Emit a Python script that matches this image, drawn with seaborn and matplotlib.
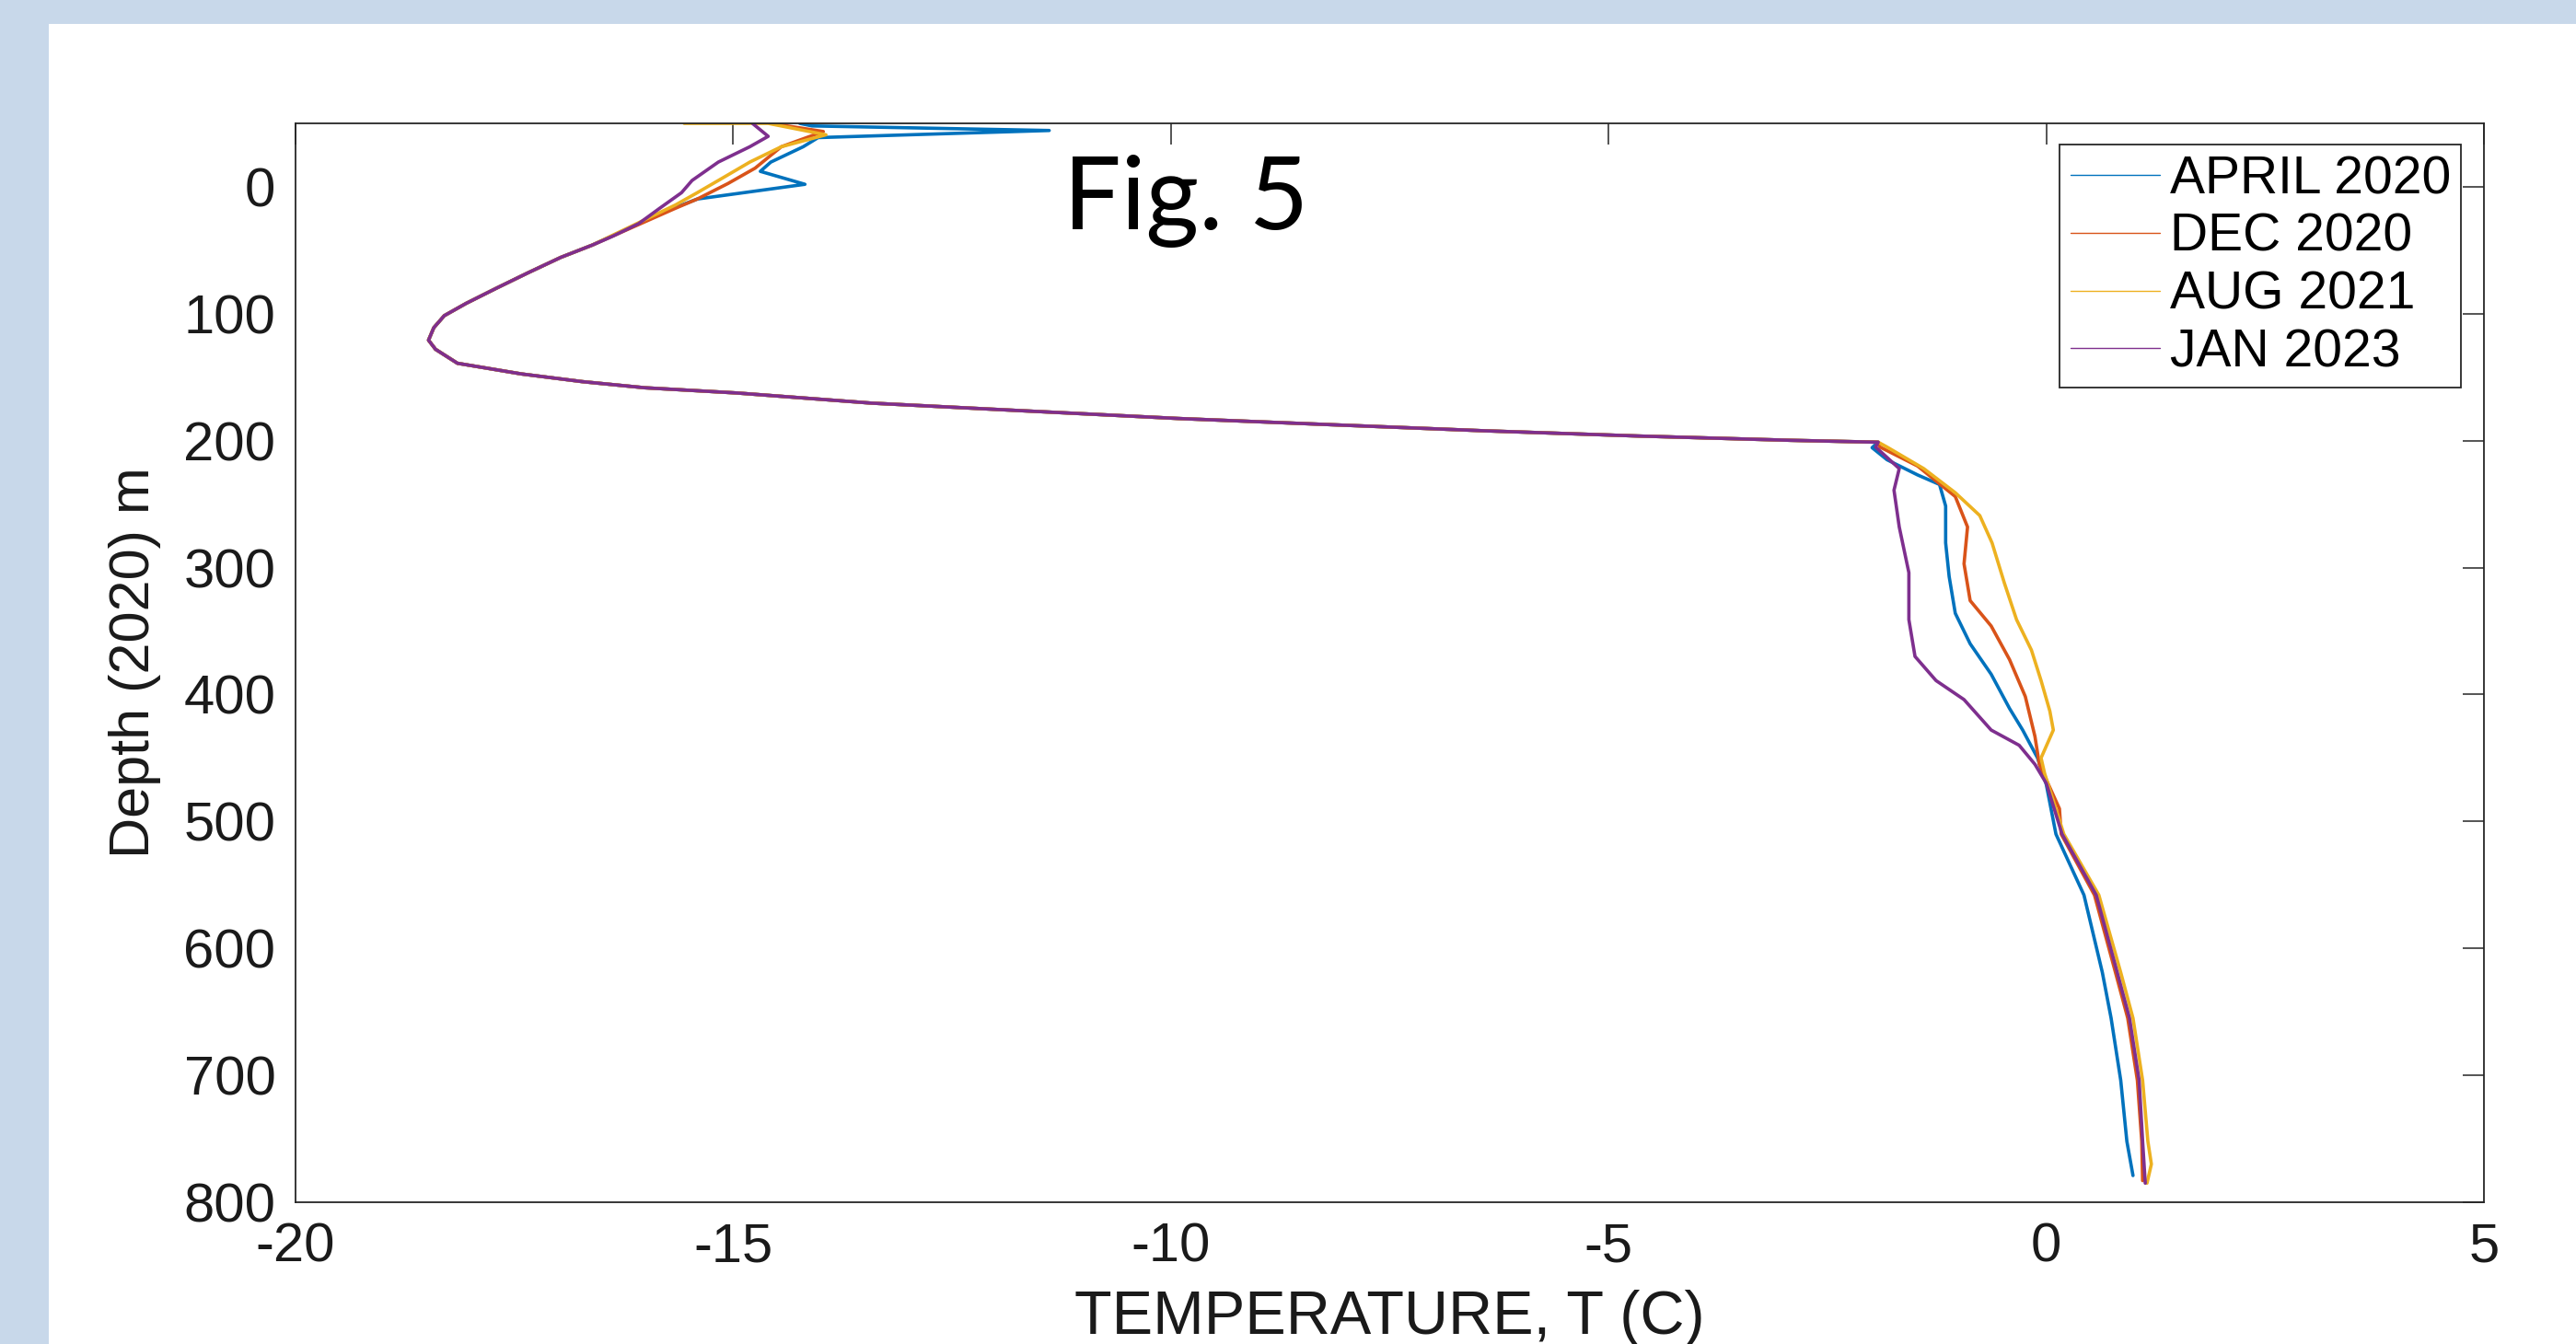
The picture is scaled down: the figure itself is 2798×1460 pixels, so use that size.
import numpy as np
import pandas as pd
import matplotlib
matplotlib.use('Agg')
import matplotlib.pyplot as plt
from matplotlib.patches import Rectangle
import seaborn as sns

# ---------------- data ----------------
surveys = ['APRIL 2020', 'DEC 2020', 'AUG 2021', 'JAN 2023']
colors = ['#0072BD', '#D95319', '#EDB120', '#7E2F8E']

# near-surface part (differs per survey)
apr_top_T = [-14.24, -14.1, -11.39, -14.03, -14.2, -14.57, -14.69, -14.18, -15.41, -15.77]
apr_top_d = [-50, -48, -44.4, -38.8, -31.6, -19.5, -12.2, -2, 9.6, 19.2]
dec_top_T = [-14.57, -13.97, -14.45, -14.75, -15.06, -15.41, -15.66]
dec_top_d = [-50, -43.6, -31.6, -14.7, -2.6, 9.6, 16.9]
aug_top_T = [-15.56, -14.6, -13.94, -14.45, -14.81, -15.11, -15.41, -15.66]
aug_top_d = [-50, -50, -41, -31.6, -19.5, -7.4, 4.6, 14.3]
jan_top_T = [-14.78, -14.6, -14.81, -15.17, -15.47, -15.59, -15.84, -16.08, -16.37]
jan_top_d = [-50, -39.8, -31.6, -19.5, -5, 4.6, 16.9, 29, 38.7]

# shared cold nose + thermocline (all surveys overlap here)
trunk_T = [-16.61, -16.97, -17.34, -17.7, -18.05, -18.3, -18.42, -18.48, -18.4, -18.15,
           -17.42, -16.72, -16.01, -14.96, -13.42, -11.67, -9.92, -8.17, -6.42, -4.67,
           -2.92, -1.92]
trunk_d = [45.9, 55.6, 67.6, 79.7, 91.8, 101.5, 111, 120.8, 128, 139,
           147.4, 153.5, 158.3, 162.4, 170.4, 176.5, 182.5, 187.4, 192.2, 196.3,
           199.7, 201.2]

# deep part (differs per survey)
apr_low_T = [-1.99, -1.82, -1.47, -1.22, -1.15, -1.15, -1.11, -1.04, -0.87, -0.63, -0.42,
             -0.27, -0.1, 0.0, 0.11, 0.43, 0.64, 0.74, 0.85, 0.92, 0.99]
apr_low_d = [205.5, 215, 227, 234.5, 251.5, 280.5, 307, 336, 360, 384, 411,
             428, 450, 471, 510, 558, 619, 655, 704, 752, 779]
dec_low_T = [-1.9, -1.47, -1.04, -0.9, -0.94, -0.87, -0.63, -0.42, -0.24, -0.13, -0.08,
             0.15, 0.17, 0.55, 0.79, 0.93, 1.04, 1.09, 1.1]
dec_low_d = [205, 220, 244, 268, 297, 326, 346, 372.5, 401.6, 433, 455,
             490, 510, 558, 619, 655, 704, 752, 783]
aug_low_T = [-1.82, -1.4, -1.04, -0.76, -0.62, -0.48, -0.34, -0.17, -0.06, 0.04, 0.08,
             -0.06, -0.02, 0.2, 0.6, 0.85, 0.99, 1.1, 1.16, 1.2, 1.15]
aug_low_d = [205, 222, 241, 259, 280.5, 312, 341, 365, 389, 413, 428,
             450, 462, 510, 558, 619, 655, 704, 752, 770, 785]
jan_low_T = [-1.95, -1.68, -1.74, -1.68, -1.57, -1.57, -1.5, -1.26, -0.94, -0.63, -0.31,
             -0.13, 0.0, 0.18, 0.57, 0.81, 0.95, 1.06, 1.1, 1.13]
jan_low_d = [205, 222, 239, 268, 304, 341, 370, 389, 404, 428, 440,
             455, 470, 510, 558, 619, 655, 704, 752, 785]

x_ticks = [-20, -15, -10, -5, 0, 5]
y_ticks = [0, 100, 200, 300, 400, 500, 600, 700, 800]

# ---------------- build long table ----------------
tops = [(apr_top_T, apr_top_d), (dec_top_T, dec_top_d), (aug_top_T, aug_top_d), (jan_top_T, jan_top_d)]
lows = [(apr_low_T, apr_low_d), (dec_low_T, dec_low_d), (aug_low_T, aug_low_d), (jan_low_T, jan_low_d)]
frames = []
for name, (tT, td), (lT, ld) in zip(surveys, tops, lows):
    T = list(tT) + trunk_T + list(lT)
    d = list(td) + trunk_d + list(ld)
    frames.append(pd.DataFrame({'T': T, 'depth': d, 'survey': name}))
df = pd.concat(frames, ignore_index=True)

# ---------------- style ----------------
sns.set_style('white')
plt.rcParams['font.family'] = ['Liberation Sans', 'DejaVu Sans']
plt.rcParams['axes.unicode_minus'] = False
txt = '#1a1a1a'

fig = plt.figure(figsize=(27.98, 14.6), dpi=100, facecolor='#C8D8EA')
# white slide area behind the plot (blue strip left and top)
fig.patches.append(Rectangle((0.0189, 0), 1.0, 0.9822, transform=fig.transFigure,
                             facecolor='white', edgecolor='none', zorder=-5))
ax = fig.add_axes([0.1147, 0.1055, 0.9643 - 0.1147, 0.9082 - 0.1055])
ax.set_facecolor('white')
ax.set_zorder(2)

sns.lineplot(data=df, x='T', y='depth', hue='survey', hue_order=surveys,
             palette=colors, sort=False, estimator=None, linewidth=2.6, ax=ax)

ax.set_xlim(-20, 5)
ax.set_ylim(800, -50)
ax.set_xticks(x_ticks)
ax.set_yticks(y_ticks)
ax.tick_params(direction='in', length=16.5, width=1.1, colors='#262626',
               labelsize=43, pad=15.5, top=True, right=True, labelcolor=txt)
for s in ax.spines.values():
    s.set_color('#262626')
    s.set_linewidth(1.3)

ax.set_xlabel('TEMPERATURE, T (C)', fontsize=48, color=txt)
ax.set_ylabel('Depth (2020) m', fontsize=44, color=txt)
ax.xaxis.set_label_coords(0.5, -0.081)
ax.yaxis.set_label_coords(-0.0614, 0.5)

leg = ax.legend(loc='upper right', bbox_to_anchor=(0.9895, 0.9804), borderaxespad=0,
                fontsize=41, frameon=True, fancybox=False, framealpha=1,
                handlelength=1.7, handletextpad=0.19, labelspacing=0.15, borderpad=0.2)
leg.get_frame().set_edgecolor('#262626')
leg.get_frame().set_linewidth(1.3)
for line in leg.get_lines():
    line.set_linewidth(1.0)
for t in leg.get_texts():
    t.set_color('black')

fig.text(0.4128, 0.8295, 'Fig. 5', fontsize=80, family=['Lato', 'DejaVu Sans'],
         fontstyle='normal', fontweight='normal', color='black',
         va='baseline', ha='left', zorder=5)

fig.savefig('out.png', dpi=100, facecolor=fig.get_facecolor())
